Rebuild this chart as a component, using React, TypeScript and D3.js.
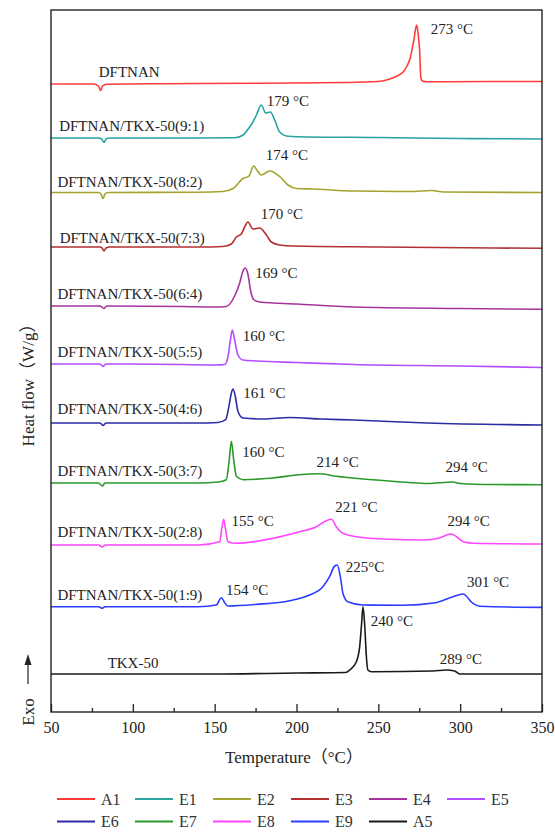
import React, { useEffect, useRef } from "react";
import * as d3 from "d3";

type Pt = [number, number];

// DSC traces: [temperature °C, heat flow relative to the trace's own baseline]
const seriesNames = ["A1", "E1", "E2", "E3", "E4", "E5", "E6", "E7", "E8", "E9", "A5"];
const seriesColors = [
  "#ff3b3b", "#2aa3a3", "#a3a32e", "#b33030", "#a8339c", "#b44cff",
  "#2c2ca6", "#2a992a", "#ff45ff", "#2b3dff", "#1a1a1a",
];
// vertical offset of each trace (stacked plot)
const baselines = [62.8, 57.4, 51.95, 46.5, 40.6, 34.8, 28.9, 22.9, 16.7, 10.53, 3.8];

const A1: Pt[] = [
  [50, 0], [76, 0], [79, -0.2], [80.3, -0.65], [81.5, -0.2], [84, -0.02], [120, 0.03],
  [180, 0.08], [230, 0.15], [250, 0.25], [257, 0.5], [262, 0.85], [265.2, 1.2], [267.5, 1.8],
  [269.5, 2.6], [271.7, 4.4], [273.4, 5.9], [274.4, 4.9], [275.2, 3.4], [276, 0.6], [277, 0.3],
  [280, 0.22], [320, 0.25], [350, 0.25],
];
const E1: Pt[] = [
  [50, 0], [79, 0], [81, -0.1], [82.4, -0.45], [83.6, -0.1], [86, 0], [140, 0], [160, 0.02],
  [163.3, 0.05], [167.3, 0.3], [171.4, 1.1], [173, 1.5], [175.5, 2.3], [178.5, 3.3], [181.2, 2.5],
  [184, 2.6], [186.7, 1.8], [189.7, 0.6], [193.8, 0.2], [201, 0.13], [250, 0.05], [300, -0.05],
  [350, -0.1],
];
const E2: Pt[] = [
  [50, 0], [79, 0], [80.5, -0.15], [81.8, -0.6], [83, -0.15], [85, 0], [140, 0.02], [155, 0.1],
  [161.2, 0.4], [167.3, 1.4], [171, 1.65], [173.8, 2.65], [176, 2.2], [178.5, 1.75], [183.6, 2.15],
  [189.7, 1.6], [194.8, 0.75], [199.9, 0.4], [210, 0.35], [235, 0.15], [270, 0.1], [282.5, 0.2],
  [290, 0.05], [350, 0],
];
const E3: Pt[] = [
  [50, 0], [80, 0], [81.2, -0.1], [82.4, -0.4], [83.6, -0.1], [86, 0], [140, 0], [155, 0.05],
  [160.2, 0.3], [163.3, 1.0], [166.3, 1.3], [168.3, 2.0], [170.3, 2.5], [173.4, 1.8], [177.5, 1.9],
  [181.6, 1.2], [184.6, 0.5], [189.7, 0.2], [198, 0.1], [250, 0], [350, -0.13],
];
const E4: Pt[] = [
  [50, 0], [80, 0], [82.4, -0.25], [84, 0], [130, -0.05], [150, -0.1], [157.1, -0.05], [162.2, 1.0],
  [165.3, 2.3], [167.3, 3.5], [168.7, 3.8], [170.3, 3.2], [172, 1.5], [173.8, 0.65], [177.5, 0.4],
  [200, 0.2], [235, -0.1], [300, -0.25], [350, -0.33],
];
const E5: Pt[] = [
  [50, 0], [80, 0], [81.8, -0.25], [83.5, 0], [130, -0.05], [150, -0.1], [156.1, -0.05],
  [158.1, 0.7], [159.6, 2.4], [160.8, 3.4], [162.2, 2.4], [164.2, 0.9], [167.3, 0.4], [175.5, 0.3],
  [200, 0.15], [235, -0.05], [300, -0.2], [350, -0.35],
];
const E6: Pt[] = [
  [50, 0], [80, 0], [81.8, -0.25], [83.5, 0], [140, 0], [152, 0.05], [156.7, 0.33], [158.7, 1.67],
  [160.2, 3.0], [161.2, 3.4], [162.6, 2.67], [164.2, 1.17], [167.3, 0.5], [179.5, 0.4], [196, 0.55],
  [215, 0.4], [235, 0.3], [280, 0], [350, -0.2],
];
const E7: Pt[] = [
  [50, 0], [79, 0], [81.4, -0.3], [83, 0], [140, 0], [152, 0.1], [157.1, 0.33], [158.7, 2.0],
  [160.2, 4.17], [161.6, 2.33], [163.3, 0.67], [167.3, 0.33], [185.6, 0.5], [201.9, 0.83],
  [214.1, 0.93], [224.3, 0.67], [246.7, 0.33], [267.1, 0.07], [280, -0.05], [295.5, 0.1],
  [300, -0.05], [320, -0.15], [350, -0.17],
];
const E8: Pt[] = [
  [50, 0], [79, 0], [81.4, -0.2], [83, 0], [140, 0], [153.1, 0.33], [154.5, 1.83], [155.5, 2.57],
  [156.7, 1.5], [158.1, 0.33], [163.3, 0.17], [185.6, 0.67], [201.9, 1.33], [212.1, 1.83],
  [218.2, 2.43], [221.3, 2.57], [224.3, 1.83], [228.4, 1.17], [236.6, 0.83], [256.9, 0.57],
  [277.3, 0.5], [286.8, 0.67], [294.4, 1.1], [302, 0.33], [308.5, 0.17], [350, 0.1],
];
const E9: Pt[] = [
  [50, 0], [79, 0], [81.4, -0.15], [83, 0], [140, 0], [151, 0.17], [154.1, 0.9], [156.1, 0.4],
  [158.1, 0.07], [175.5, 0.23], [195.8, 0.6], [208, 1.17], [216.1, 2.0], [220.2, 3.0], [223.3, 4.07],
  [224.9, 4.17], [226.8, 3.0], [228.4, 1.33], [231.4, 0.5], [240.6, 0.17], [265, 0.15], [285, 0.4],
  [295.6, 1.0], [301.7, 1.27], [307.8, 0.33], [312, 0.05], [350, -0.07],
];
const A5: Pt[] = [
  [50, 0], [150, 0], [200, 0.1], [230, 0.15], [232.5, 0.4], [236.6, 1.23], [238.6, 2.73],
  [239.8, 5.07], [240.6, 6.73], [241.6, 5.07], [242.7, 1.73], [243.6, 0.4], [245.7, 0.23],
  [283.4, 0.3], [291.5, 0.4], [296.6, 0.3], [299.7, 0], [350, 0],
];
const curves = [A1, E1, E2, E3, E4, E5, E6, E7, E8, E9, A5];

const xTicks = [50, 100, 150, 200, 250, 300, 350];
const xMinorTicks = [75, 125, 175, 225, 275, 325];

// sample names, placed in data coordinates [temperature, heat flow]
const sampleLabels: { text: string; t: number; v: number }[] = [
  { text: "DFTNAN", t: 79.2, v: 63.5 },
  { text: "DFTNAN/TKX-50(9:1)", t: 55.0, v: 58.1 },
  { text: "DFTNAN/TKX-50(8:2)", t: 53.9, v: 52.53 },
  { text: "DFTNAN/TKX-50(7:3)", t: 55.3, v: 46.87 },
  { text: "DFTNAN/TKX-50(6:4)", t: 53.9, v: 41.3 },
  { text: "DFTNAN/TKX-50(5:5)", t: 53.9, v: 35.47 },
  { text: "DFTNAN/TKX-50(4:6)", t: 53.9, v: 29.8 },
  { text: "DFTNAN/TKX-50(3:7)", t: 53.9, v: 23.63 },
  { text: "DFTNAN/TKX-50(2:8)", t: 53.9, v: 17.53 },
  { text: "DFTNAN/TKX-50(1:9)", t: 53.9, v: 11.2 },
  { text: "TKX-50", t: 84.6, v: 4.37 },
];

const peakLabels: { text: string; t: number; v: number }[] = [
  { text: "273 °C", t: 282.0, v: 67.8 },
  { text: "179 °C", t: 181.8, v: 60.63 },
  { text: "174 °C", t: 181.2, v: 55.2 },
  { text: "170 °C", t: 178.1, v: 49.27 },
  { text: "169 °C", t: 174.8, v: 43.37 },
  { text: "160 °C", t: 167.2, v: 37.13 },
  { text: "161 °C", t: 167.4, v: 31.37 },
  { text: "160 °C", t: 166.8, v: 25.47 },
  { text: "214 °C", t: 212.2, v: 24.47 },
  { text: "294 °C", t: 291.1, v: 24.03 },
  { text: "221 °C", t: 223.7, v: 20.03 },
  { text: "155 °C", t: 160.3, v: 18.63 },
  { text: "294 °C", t: 292.2, v: 18.63 },
  { text: "225°C", t: 230.1, v: 14.03 },
  { text: "301 °C", t: 304.1, v: 12.53 },
  { text: "154 °C", t: 157.0, v: 11.7 },
  { text: "240 °C", t: 245.3, v: 8.63 },
  { text: "289 °C", t: 287.5, v: 4.8 },
];

const SERIF = "'Liberation Serif', 'Times New Roman', 'Noto Sans CJK SC', serif";
const INK = "#222";

const DscChart: React.FC = () => {
  const ref = useRef<SVGSVGElement>(null);

  useEffect(() => {
    if (!ref.current) return;
    const svg = d3.select(ref.current);
    svg.selectAll("*").remove();

    const W = 555;
    const H = 832;
    svg.append("rect").attr("width", W).attr("height", H).attr("fill", "#fff");

    const x = d3.scaleLinear().domain([50, 350]).range([51, 542]);
    const y = d3.scaleLinear().domain([0, 70.2]).range([712, 10]);

    const line = (base: number) =>
      d3
        .line<Pt>()
        .x((d) => x(d[0]))
        .y((d) => y(base + d[1]))
        .curve(d3.curveMonotoneX);

    // traces
    svg
      .append("g")
      .selectAll("path")
      .data(curves)
      .enter()
      .append("path")
      .attr("d", (d, i) => line(baselines[i])(d) || "")
      .attr("fill", "none")
      .attr("stroke", (d, i) => seriesColors[i])
      .attr("stroke-width", 1.6)
      .attr("stroke-linejoin", "round");

    // bottom axis, ticks pointing inward
    const gx = svg
      .append("g")
      .attr("transform", `translate(0,${y(0)})`)
      .call(
        d3.axisBottom(x).tickValues(xTicks).tickSize(-8).tickPadding(10).tickFormat(d3.format("d"))
      );
    gx.select(".domain").remove();
    gx.selectAll("text")
      .attr("font-family", SERIF)
      .attr("font-size", 16)
      .attr("fill", INK);
    gx.selectAll("line").attr("stroke", INK).attr("stroke-width", 1.3);

    const gm = svg
      .append("g")
      .attr("transform", `translate(0,${y(0)})`)
      .call(d3.axisBottom(x).tickValues(xMinorTicks).tickSize(-4).tickFormat(() => ""));
    gm.select(".domain").remove();
    gm.selectAll("line").attr("stroke", INK).attr("stroke-width", 1.3);

    // frame
    svg
      .append("rect")
      .attr("x", x(50))
      .attr("y", y(70.2))
      .attr("width", x(350) - x(50))
      .attr("height", y(0) - y(70.2))
      .attr("fill", "none")
      .attr("stroke", INK)
      .attr("stroke-width", 1.4);

    // annotations
    svg
      .append("g")
      .selectAll("text")
      .data([...sampleLabels, ...peakLabels])
      .enter()
      .append("text")
      .attr("x", (d) => x(d.t))
      .attr("y", (d) => y(d.v))
      .attr("font-family", SERIF)
      .attr("font-size", 15)
      .attr("fill", INK)
      .text((d) => d.text);

    // axis titles
    svg
      .append("text")
      .attr("x", 294)
      .attr("y", 763)
      .attr("text-anchor", "middle")
      .attr("font-family", SERIF)
      .attr("font-size", 17)
      .attr("fill", INK)
      .text("Temperature（°C）");

    svg
      .append("text")
      .attr("transform", "translate(34,381) rotate(-90)")
      .attr("text-anchor", "middle")
      .attr("font-family", SERIF)
      .attr("font-size", 17)
      .attr("fill", INK)
      .text("Heat flow（W/g）");

    svg
      .append("text")
      .attr("transform", "translate(34,712) rotate(-90)")
      .attr("text-anchor", "middle")
      .attr("font-family", SERIF)
      .attr("font-size", 17)
      .attr("fill", INK)
      .text("Exo");

    svg
      .append("line")
      .attr("x1", 28)
      .attr("x2", 28)
      .attr("y1", 684)
      .attr("y2", 662)
      .attr("stroke", INK)
      .attr("stroke-width", 1.2);
    svg
      .append("path")
      .attr("d", "M28,654 L24.5,665 L31.5,665 Z")
      .attr("fill", INK);

    // legend
    const leg = svg
      .append("g")
      .selectAll("g")
      .data(seriesNames)
      .enter()
      .append("g")
      .attr("transform", (d, i) => `translate(${57 + (i % 6) * 78},${799 + Math.floor(i / 6) * 22.5})`);
    leg
      .append("line")
      .attr("x1", 0)
      .attr("x2", 38)
      .attr("stroke", (d, i) => seriesColors[i])
      .attr("stroke-width", 1.8);
    leg
      .append("text")
      .attr("x", 44)
      .attr("dy", "0.35em")
      .attr("font-family", SERIF)
      .attr("font-size", 16)
      .attr("fill", "#333")
      .text((d) => d);
  }, []);

  return (
    <svg
      ref={ref}
      width={555}
      height={832}
      style={{ position: "absolute", left: 0, top: 0, display: "block" }}
    />
  );
};

export default function App() {
  return <DscChart />;
}
